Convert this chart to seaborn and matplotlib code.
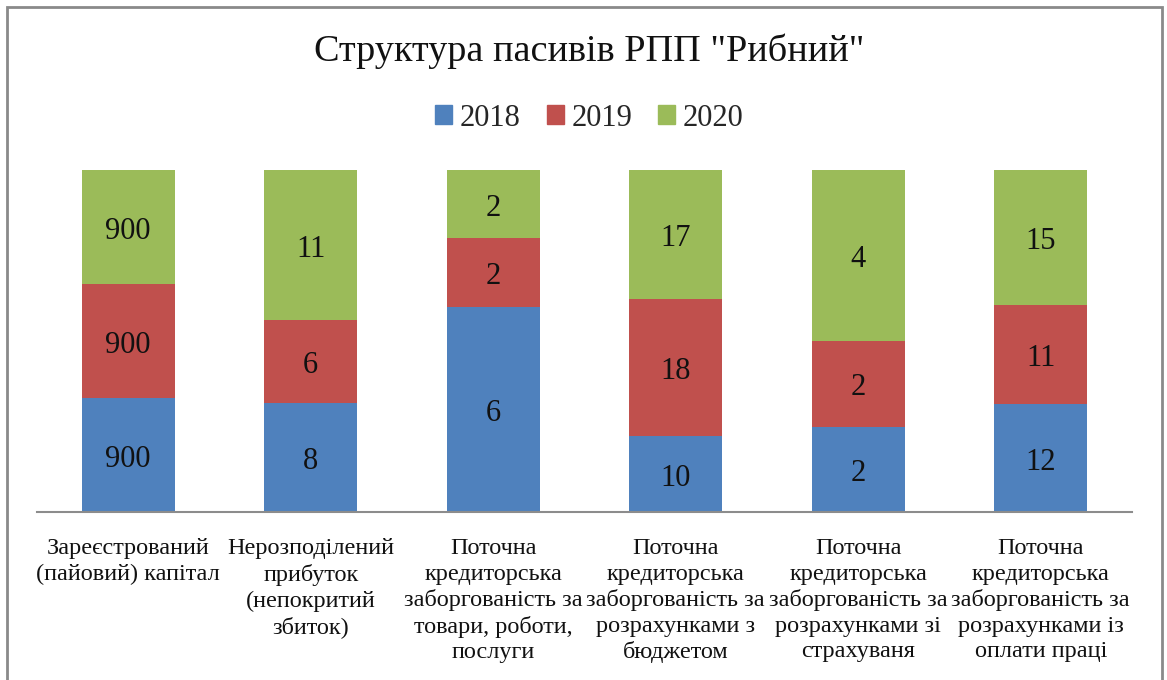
import matplotlib
matplotlib.use("Agg")
import matplotlib.pyplot as plt
import seaborn as sns
import pandas as pd
import numpy as np
from matplotlib.patches import Rectangle

categories = [
    "Зареєстрований\n(пайовий) капітал",
    "Нерозподілений\nприбуток\n(непокритий\nзбиток)",
    "Поточна\nкредиторська\nзаборгованість за\nтовари, роботи,\nпослуги",
    "Поточна\nкредиторська\nзаборгованість за\nрозрахунками з\nбюджетом",
    "Поточна\nкредиторська\nзаборгованість за\nрозрахунками зі\nстрахуваня",
    "Поточна\nкредиторська\nзаборгованість за\nрозрахунками із\nоплати праці",
]
years = ["2018", "2019", "2020"]
v2018 = [900, 8, 6, 10, 2, 12]
v2019 = [900, 6, 2, 18, 2, 11]
v2020 = [900, 11, 2, 17, 4, 15]
colors = ["#4F81BD", "#C0504D", "#9BBB59"]

sns.set_theme(style="white")
plt.rcParams["font.family"] = ["Liberation Serif", "DejaVu Serif"]

df = pd.DataFrame({"cat": categories, "2018": v2018, "2019": v2019, "2020": v2020})
vals = df[years].to_numpy(dtype=float)
share = vals / vals.sum(axis=1, keepdims=True)
cum = np.cumsum(share, axis=1)

fig = plt.figure(figsize=(11.67, 6.8), dpi=100)
ax = fig.add_axes([37 / 1167, 1 - 512 / 680, (1132 - 37) / 1167, (512 - 170) / 680])

for i in reversed(range(3)):
    d = pd.DataFrame({"cat": categories, "y": cum[:, i]})
    sns.barplot(data=d, x="cat", y="y", color=colors[i], width=0.51,
                saturation=1, ax=ax, zorder=2, linewidth=0)

for j in range(len(categories)):
    for i in range(3):
        bottom = cum[j, i] - share[j, i]
        ax.text(j, bottom + share[j, i] / 2 - 0.012, f"{int(vals[j, i])}",
                ha="center", va="center", fontsize=22, color="#111111", zorder=3)

ax.set_ylim(0, 1)
ax.set_xlim(-0.5, len(categories) - 0.5)
ax.set_ylabel("")
ax.set_xlabel("")
ax.set_yticks([])
if ax.get_legend() is not None:
    ax.get_legend().remove()
for s in ["top", "right", "left"]:
    ax.spines[s].set_visible(False)
ax.spines["bottom"].set_color("#8c8c8c")
ax.spines["bottom"].set_linewidth(1.5)
ax.tick_params(axis="x", length=0, pad=19, labelsize=17.5, colors="#111111")
for lbl in ax.get_xticklabels():
    lbl.set_linespacing(1.27)
    lbl.set_va("top")

handles = [plt.Rectangle((0, 0), 1, 1, color=c) for c in colors]
fig.legend(handles, years, loc="center", bbox_to_anchor=(0.505, 1 - 118 / 680),
           ncol=3, frameon=False, fontsize=22, handlelength=0.55, handleheight=0.55,
           handletextpad=0.25, columnspacing=0.85)

fig.text(0.505, 1 - 51 / 680, 'Структура пасивів РПП "Рибний"', ha="center", va="center",
         fontsize=27.5, color="#111111")

fig.patches.append(Rectangle((7 / 1167, -0.02), (1162 - 7) / 1167, (673 / 680) + 0.02,
                             transform=fig.transFigure, fill=False,
                             edgecolor="#8a8a8a", linewidth=2))

fig.savefig("out.png", dpi=100, facecolor="white")
